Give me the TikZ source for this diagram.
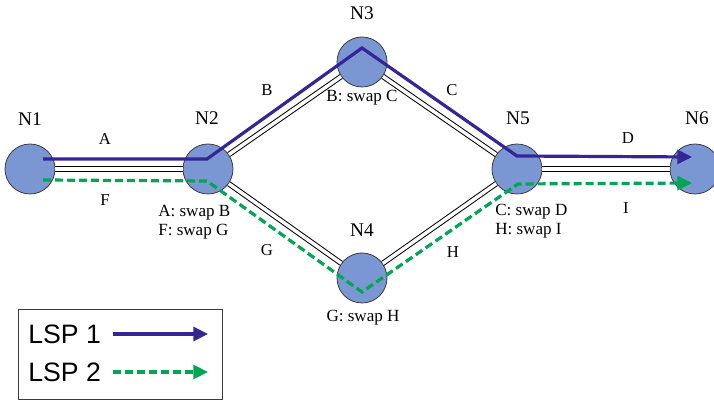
\documentclass[tikz,border=0pt]{standalone}
\usepackage{fontspec}
\setmainfont{Liberation Serif}
\newfontfamily\legendfont{Liberation Sans}
\usetikzlibrary{arrows.meta,calc}

\definecolor{lspone}{RGB}{52,38,150}
\definecolor{lsptwo}{RGB}{0,166,81}
\definecolor{routerfill}{RGB}{123,151,211}
\definecolor{routerline}{RGB}{60,60,60}

\begin{document}
\begin{tikzpicture}[x=0.75pt,y=-0.75pt,
	router/.style={circle,draw=routerline,fill=routerfill,line width=0.6pt,minimum size=37.5pt,inner sep=0pt},
	link/.style={draw=black,double=white,double distance=2.6pt,line width=0.75pt},
	lspa/.style={color=lspone,line width=2.4pt},
	lspb/.style={color=lsptwo,line width=2.4pt,dash pattern=on 6pt off 3pt},
	tip/.style={-{Triangle[length=11pt,width=10.5pt]}},
	namelbl/.style={inner sep=0.75pt,font=\fontsize{14.5}{17}\selectfont},
	linklbl/.style={inner sep=0.75pt,font=\fontsize{12.5}{14}\selectfont},
	swaplbl/.style={inner sep=0.75pt,font=\fontsize{12.8}{14.5}\selectfont},
	legendlbl/.style={inner sep=0pt,anchor=west,font=\legendfont\fontsize{20}{22}\selectfont}]
	\useasboundingbox (0,0) rectangle (714,402);

	%Shape: Circles
	\node[router] (n1) at (30,169) {};
	\node[router] (n2) at (208,169) {};
	\node[router] (n3) at (362,62) {};
	\node[router] (n4) at (362,278) {};
	\node[router] (n5) at (517,169) {};
	\node[router] (n6) at (695,169) {};

	%Straight Lines: links
	\draw[link] (n1) -- (n2);
	\draw[link] (n2) -- (n3);
	\draw[link] (n2) -- (n4);
	\draw[link] (n3) -- (n5);
	\draw[link] (n4) -- (n5);
	\draw[link] (n5) -- (n6);

	%Straight Lines: LSP 1
	\draw[lspa,tip] ($(n1)+(13,-10)$) -- ($(n2)+(-1,-10)$) -- ($(n3)+(0,-14)$) -- ($(n5)+(0,-13)$) -- ($(n6)+(-3,-12)$);
	%Straight Lines: LSP 2
	\draw[lspb,tip] ($(n1)+(13,11)$) -- ($(n2)+(-1,12)$) -- ($(n4)+(0,14)$) -- ($(n5)+(1,15)$) -- ($(n6)+(-3,14)$);

	% Text Node
	\node[namelbl] (t1) at (30,119) {N1};
	\node[namelbl] (t2) at (207,118) {N2};
	\node[namelbl] (t3) at (362,13) {N3};
	\node[namelbl] (t4) at (362,230) {N4};
	\node[namelbl] (t5) at (518,118) {N5};
	\node[namelbl] (t6) at (697,118) {N6};

	% Text Node
	\node[linklbl] (la) at (105,139) {A};
	\node[linklbl] (lb) at (267,90) {B};
	\node[linklbl] (lc) at (452,90) {C};
	\node[linklbl] (ld) at (628,138) {D};
	\node[linklbl] (lf) at (105,200) {F};
	\node[linklbl] (lg) at (267,250) {G};
	\node[linklbl] (lh) at (453,252) {H};
	\node[linklbl] (li) at (626,208) {I};

	% Text Node
	\node[swaplbl] (s3) at (362,98) {B: swap C};
	\node[swaplbl,anchor=west,align=left] (s2) at (157,222) {A: swap B\\F: swap G};
	\node[swaplbl,anchor=west,align=left] (s5) at (494,221) {C: swap D\\H: swap I};
	\node[swaplbl] (s4) at (363,318) {G: swap H};

	%Shape: Rectangle (legend)
	\draw[draw=routerline,line width=0.7pt] (18,309) rectangle (222,399);
	\node[legendlbl] (k1) at (28,334) {LSP 1};
	\node[legendlbl] (k2) at (28,372) {LSP 2};
	\coordinate (k1s) at (113,334);
	\coordinate (k1e) at (208,334);
	\coordinate (k2s) at (113,372);
	\coordinate (k2e) at (208,372);
	\draw[lspa,tip] (k1s) -- (k1e);
	\draw[lspb,tip] (k2s) -- (k2e);

\end{tikzpicture}
\end{document}
